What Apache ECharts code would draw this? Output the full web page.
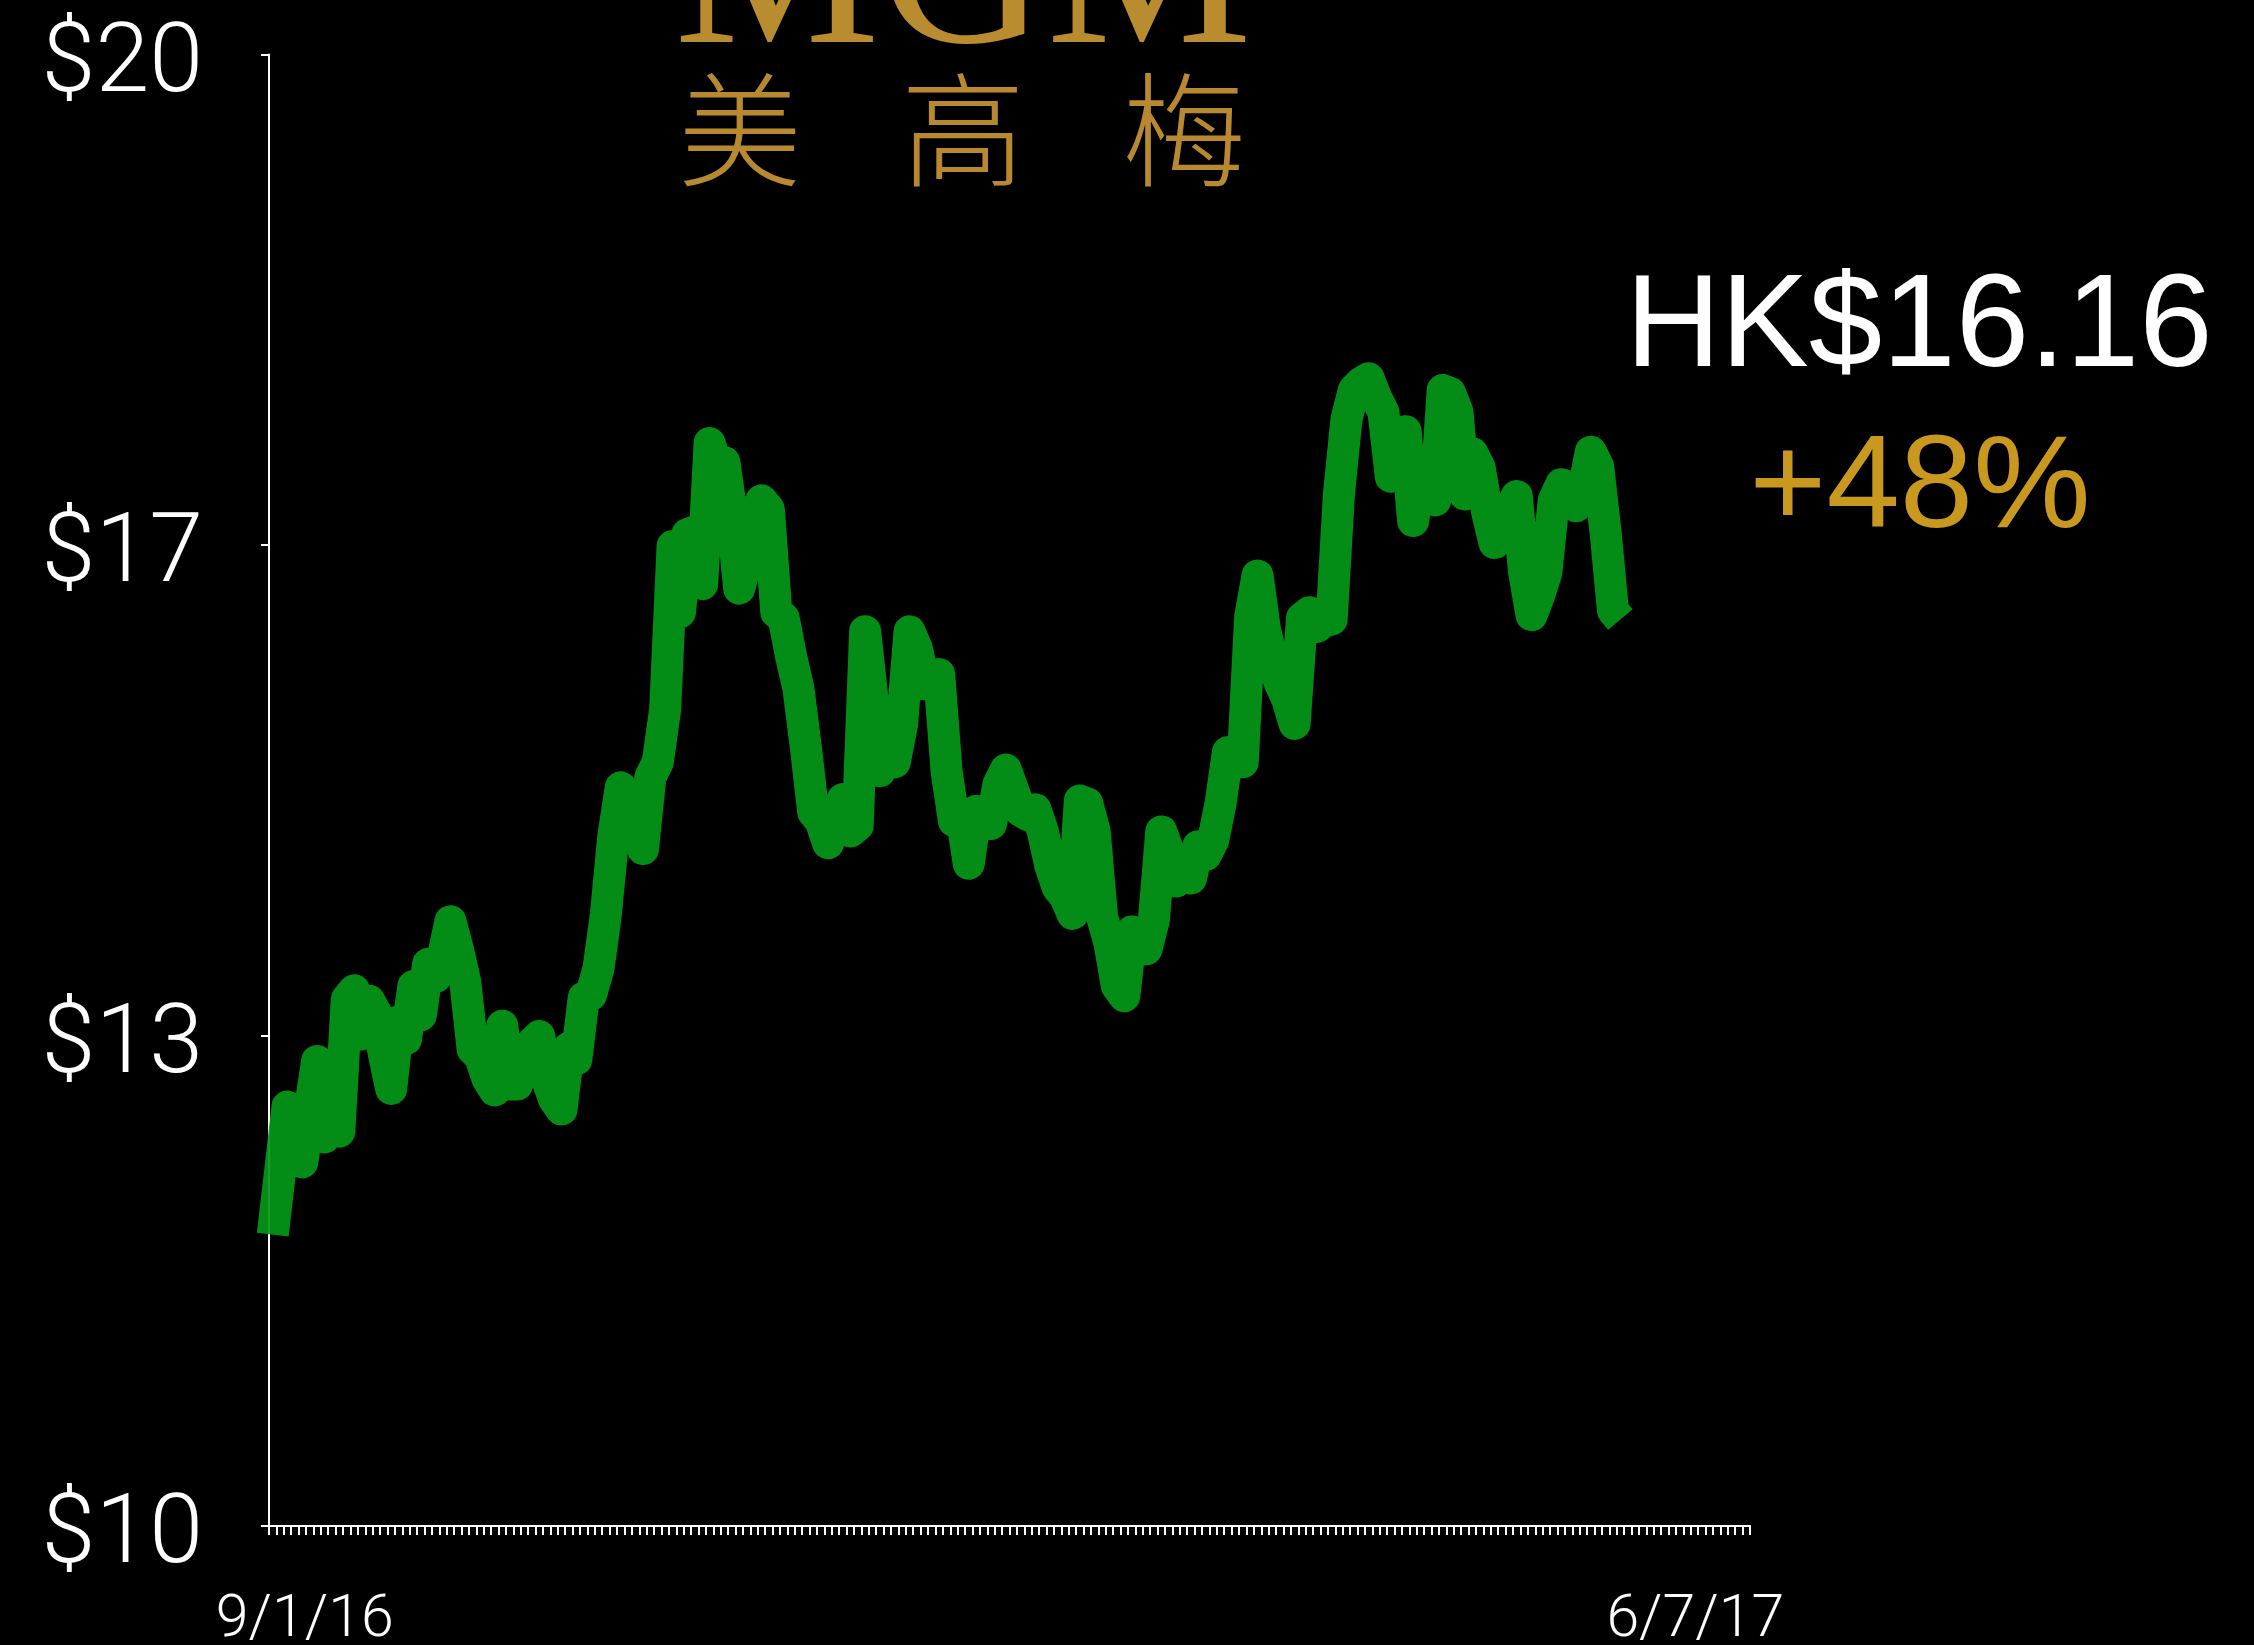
<!DOCTYPE html>
<html>
<head>
<meta charset="utf-8">
<style>html,body{margin:0;padding:0;background:#000;overflow:hidden}#chart{width:2254px;height:1645px}</style>
<script src="https://cdn.jsdelivr.net/npm/echarts@6/dist/echarts.min.js"></script>
</head>
<body>
<div id="chart"></div>
<script>
// MGM China daily close, HK$, one value per trading slot from 9/1/16.
const closes = [
11.98,12.41,12.85,12.69,12.47,12.83,13.16,12.64,12.83,12.68,
13.58,13.64,13.34,13.57,13.48,13.21,12.97,13.43,13.31,13.67,
13.47,13.82,13.73,13.87,14.11,13.92,13.70,13.24,13.19,13.04,
12.96,13.40,13.00,13.00,13.19,13.28,13.33,13.04,12.90,12.83,
13.25,13.17,13.59,13.61,13.79,14.16,14.69,15.02,14.81,14.89,
14.60,15.09,15.19,15.55,16.66,16.21,16.74,16.76,16.40,17.36,
17.19,17.23,16.87,16.37,16.56,16.87,16.97,16.91,16.21,16.17,
15.91,15.69,15.29,14.85,14.79,14.64,14.79,14.94,14.72,
14.76,16.08,15.62,15.13,15.22,15.19,15.45,16.08,15.96,15.72,
15.72,15.79,15.13,14.79,14.83,14.50,14.86,14.82,14.77,15.04,15.14,
15.00,14.86,14.83,14.87,14.72,14.49,14.34,14.28,14.16,14.93,
14.91,14.72,14.14,13.96,13.67,13.60,14.04,14.03,13.92,14.12,
14.72,14.58,14.38,14.48,14.40,14.62,14.56,14.66,14.91,15.26,
15.25,15.19,16.18,16.46,16.09,15.89,15.73,15.62,15.45,16.17,
16.21,16.11,16.15,16.16,17.02,17.52,17.72,17.77,17.80,
17.67,17.57,17.13,17.38,17.44,16.83,17.16,16.99,16.97,17.72,
17.70,17.57,17.01,17.29,17.19,16.89,16.68,16.79,16.89,17.00,
16.48,16.19,16.32,16.48,16.97,17.08,17.06,16.93,17.04,17.30,17.20,
16.75,16.22,16.16
];
const firstDate = '9/1/16';
const lastDate = '6/7/17';
const sessionCount = 200;
const dates = Array.from({length: sessionCount}, (_, i) =>
  i === 0 ? firstDate : i === sessionCount - 1 ? lastDate : 'session ' + (i + 1));
const priceTicks = ['$10', '$13', '$17', '$20'];
const priceMin = 10, priceMax = 20;
const lastPrice = 'HK$16.16';
const changeSinceStart = '+48%';
const logoLatin = 'MGM';
const logoChars = ['美', '高', '梅'];

const FONT = 'Roboto, "Liberation Sans", sans-serif';
const chart = echarts.init(document.getElementById('chart'), null, {renderer: 'canvas'});
chart.setOption({
  backgroundColor: '#000',
  animation: false,
  grid: {left: 269, right: 504, top: 54.5, bottom: 119, containLabel: false, outerBoundsMode: 'none'},
  xAxis: {
    type: 'category',
    data: dates,
    boundaryGap: true,
    axisLine: {onZero: false, lineStyle: {color: '#fff', width: 2}},
    axisTick: {show: true, interval: 0, length: 9, lineStyle: {color: '#fff', width: 2}},
    axisLabel: {
      show: true,
      interval: (i) => i === 0 || i === sessionCount - 1,
      margin: 66,
      hideOverlap: false,
      formatter: (v) => v === firstDate ? '{a|' + v + '}' : '{b|' + v + '}',
      rich: {
        a: {color: '#fff', fontFamily: FONT, fontWeight: 300, fontSize: 59, padding: [0, 0, 0, 64]},
        b: {color: '#fff', fontFamily: FONT, fontWeight: 300, fontSize: 59, padding: [0, 102, 0, 0]}
      }
    }
  },
  yAxis: {
    type: 'value',
    min: priceMin,
    max: priceMax,
    interval: (priceMax - priceMin) / 3,
    splitLine: {show: false},
    axisLine: {show: true, lineStyle: {color: '#fff', width: 2}},
    axisTick: {show: true, length: 8, lineStyle: {color: '#fff', width: 2}},
    axisLabel: {
      margin: 66,
      formatter: (v) => '{p|' + priceTicks[Math.round((v - priceMin) / ((priceMax - priceMin) / 3))] + '}',
      rich: {p: {color: '#fff', fontFamily: FONT, fontWeight: 300, fontSize: 97, padding: [24, 0, 0, 0]}}
    }
  },
  series: [{
    type: 'line',
    data: closes,
    clip: false,
    showSymbol: false,
    smooth: false,
    lineStyle: {color: '#039819', width: 32, opacity: 0.93, join: 'round', cap: 'butt'}
  }],
  graphic: [
    {type: 'text', x: 1919, y: 330, style: {text: lastPrice, fill: '#fff', font: '132px "Liberation Sans", sans-serif', textAlign: 'center', textVerticalAlign: 'middle'}},
    {type: 'text', x: 1920, y: 491, style: {text: changeSinceStart, fill: '#c8981f', font: '132px "Liberation Sans", sans-serif', textAlign: 'center', textVerticalAlign: 'middle'}},
    {type: 'text', x: 963, y: 97, style: {text: logoLatin, fill: '#b98c30', font: '231px "Liberation Serif", serif', textAlign: 'center', textVerticalAlign: 'bottom'}},
    ...logoChars.map((c, i) => ({
      type: 'text', x: [740, 963, 1184][i], y: 130,
      style: {text: c, fill: '#b8892f', font: '300 124px "Noto Sans CJK SC", sans-serif', textAlign: 'center', textVerticalAlign: 'middle'}
    }))
  ]
});
</script>
</body>
</html>
